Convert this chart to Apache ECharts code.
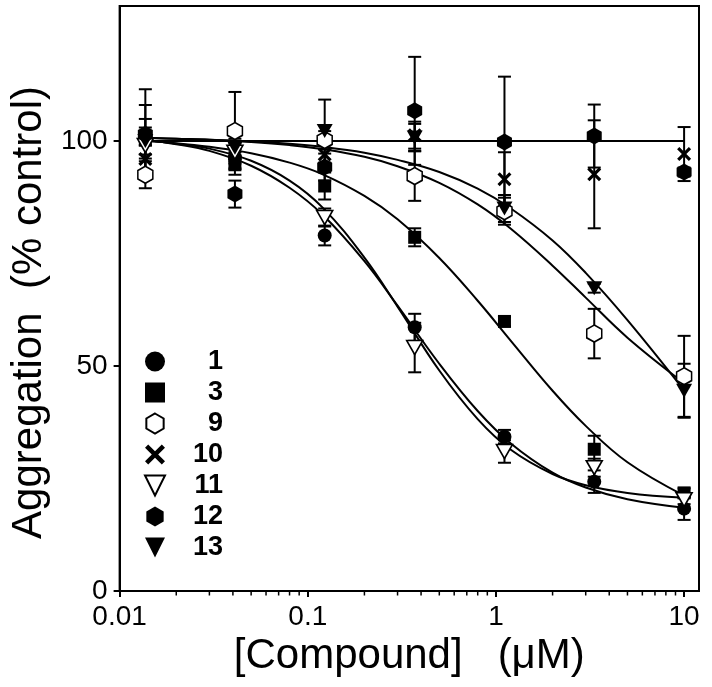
<!DOCTYPE html>
<html>
<head>
<meta charset="utf-8">
<script src="https://cdn.jsdelivr.net/npm/echarts@6/dist/echarts.min.js"></script>
<style>html,body{margin:0;padding:0;background:#fff}#c{width:712px;height:687px}</style>
</head>
<body>
<div id="c"></div>
<script>
// ---- data ----
const conc = [0.0137, 0.041, 0.123, 0.37, 1.11, 3.33, 10];
const s1  = [101, 96.4, 79, 58.6, 34.3, 24.3, 18.3];
const e1  = [2, 2.5, 2.2, 3, 1.5, 2.5, 2.5];
const s3  = [100.5, 95, 90, 78.6, 59.9, 31.5, 21.8];
const e3  = [4.4, 2.5, 3, 2, 1, 3, 1];
const s9  = [92.5, 102.2, 100.2, 92.2, 84.4, 57.2, 47.7];
const e9  = [3, 8.7, 2, 5.5, 3, 5.5, 9];
const s10 = [96, 97, 97, 101.3, 91.5, 92.6, 97.1];
const e10 = [3, 2, 2, 3, 6, 12, 6];
const s11 = [99, 97.5, 83, 54.1, 31, 27.4, 20.3];
const e11 = [2, 2, 2, 5.5, 2.5, 2, 1];
const s12 = [101.5, 88.2, 94.2, 106.7, 99.8, 101.1, 93.1];
const e12 = [10, 3, 3, 12, 14.5, 7, 1];
const s13 = [100, 98.5, 102.2, 100.8, 85, 67.3, 44.5];
const e13 = [8, 2, 7, 3, 3, 1, 6];

// fitted curves
const fitX  = [0.0137, 0.02, 0.03, 0.05, 0.08, 0.12, 0.2, 0.3, 0.5, 0.8, 1.2, 2, 3, 5, 10];
const fit1  = [100.3, 99.3, 97.8, 94.5, 89.6, 83.6, 73.3, 63.4, 50.5, 40.0, 32.8, 26.3, 23.0, 20.4, 18.5];
const fit3  = [100.0, 99.5, 98.7, 97.3, 95.2, 92.6, 87.8, 82.6, 74.0, 64.5, 55.6, 44.5, 36.7, 28.6, 21.2];
const fit9  = [100.7, 100.5, 100.3, 99.8, 99.1, 98.2, 96.5, 94.4, 90.7, 85.9, 80.5, 72.3, 65.2, 56.3, 46.2];
const fit11 = [100.1, 99.4, 98.3, 95.6, 91.2, 85.2, 74.1, 63.2, 49.0, 38.2, 31.4, 26.0, 23.5, 21.8, 20.7];
const fit13 = [100.7, 100.5, 100.3, 99.9, 99.4, 98.7, 97.4, 95.8, 93.1, 89.4, 85.0, 77.9, 70.7, 60.2, 44.6];
const flatX = [0.0137, 10];
const flatY = [100, 100];

const xMajor = [0.01, 0.1, 1, 10];
const xMinor = [0.02,0.03,0.04,0.05,0.06,0.07,0.08,0.09,0.2,0.3,0.4,0.5,0.6,0.7,0.8,0.9,2,3,4,5,6,7,8,9];
const yTicks = [0, 50, 100];
const names = ['1', '3', '9', '10', '11', '12', '13'];

// ---- build ----
const FONT = 'Liberation Sans, Arial, Helvetica, sans-serif';
const HEX = 'path://M50,0 L93.3,25 L93.3,75 L50,100 L6.7,75 L6.7,25 Z';
const XSYM = 'path://M0,16 L16,0 L50,34 L84,0 L100,16 L66,50 L100,84 L84,100 L50,66 L16,100 L0,84 L34,50 Z';
const TRI = 'path://M0,0 L100,0 L50,100 Z';

const zip = (xs, ys) => xs.map((x, i) => [x, ys[i]]);
const zip3 = (xs, ys, es) => xs.map((x, i) => [x, ys[i], es[i]]);

const sets = [
  {name: '1',  y: s1,  e: e1,  symbol: 'circle', size: 14, fill: '#000'},
  {name: '3',  y: s3,  e: e3,  symbol: 'rect', size: 13, fill: '#000'},
  {name: '9',  y: s9,  e: e9,  symbol: HEX, size: [15, 17], fill: '#fff'},
  {name: '10', y: s10, e: e10, symbol: XSYM, size: 14, fill: '#000'},
  {name: '11', y: s11, e: e11, symbol: TRI, size: [16, 14], fill: '#fff'},
  {name: '12', y: s12, e: e12, symbol: HEX, size: [15, 17], fill: '#000'},
  {name: '13', y: s13, e: e13, symbol: TRI, size: [16, 14], fill: '#000'}
];

function errRender(params, api) {
  const x = api.value(0), y = api.value(1), e = api.value(2);
  const t = api.coord([x, y + e]);
  const b = api.coord([x, y - e]);
  const hw = 6.5;
  const st = {stroke: '#000', lineWidth: 2};
  return {type: 'group', children: [
    {type: 'line', shape: {x1: t[0], y1: t[1], x2: b[0], y2: b[1]}, style: st},
    {type: 'line', shape: {x1: t[0] - hw, y1: t[1], x2: t[0] + hw, y2: t[1]}, style: st},
    {type: 'line', shape: {x1: b[0] - hw, y1: b[1], x2: b[0] + hw, y2: b[1]}, style: st}
  ]};
}
function minorTickRender(params, api) {
  const p = api.coord([api.value(0), 0]);
  return {type: 'line', shape: {x1: p[0], y1: p[1] + 1, x2: p[0], y2: p[1] + 4.5},
    style: {stroke: '#000', lineWidth: 1.5}};
}

const series = [];
series.push({
  name: 'minorTicks', type: 'custom', renderItem: minorTickRender, clip: false,
  data: xMinor.map(v => [v, 0]), encode: {x: 0, y: 1}, z: 0, silent: true
});
sets.forEach(s => {
  series.push({
    name: 'err' + s.name, type: 'custom', renderItem: errRender,
    data: zip3(conc, s.y, s.e), encode: {x: 0, y: 1}, z: 1, silent: true
  });
});
const fits = [[fitX, fit1], [fitX, fit3], [fitX, fit9], [fitX, fit11], [fitX, fit13], [flatX, flatY]];
fits.forEach((f, i) => {
  series.push({
    name: 'fit' + i, type: 'line', data: zip(f[0], f[1]), showSymbol: false,
    smooth: 0.4, lineStyle: {color: '#000', width: 2}, z: 2, silent: true
  });
});
sets.forEach(s => {
  series.push({
    name: s.name, type: 'scatter', data: zip(conc, s.y), symbol: s.symbol, symbolSize: s.size,
    itemStyle: {color: s.fill, borderColor: '#000', borderWidth: s.fill === '#fff' ? 1.6 : 0, opacity: 1},
    z: 3
  });
});

const chart = echarts.init(document.getElementById('c'), null, {renderer: 'canvas'});
chart.setOption({
  animation: false,
  backgroundColor: '#fff',
  grid: {left: 115, right: 13, top: 6, bottom: 96, show: true, borderColor: '#000', borderWidth: 2, backgroundColor: 'transparent'},
  legend: {
    data: names, orient: 'vertical', left: 144, top: 348, padding: 0,
    itemWidth: 20, itemHeight: 20, itemGap: 4, selectedMode: false,
    formatter: n => '{a|' + n + '}',
    textStyle: {rich: {a: {width: 53, align: 'right', fontSize: 27, fontWeight: 'bold', fontFamily: FONT, color: '#000', lineHeight: 20}}}
  },
  xAxis: {
    type: 'log', logBase: 10, min: 0.01, max: 12, position: 'bottom',
    name: '[Compound]   (\u03bcM)', nameLocation: 'middle', nameGap: 44,
    nameTextStyle: {fontSize: 42, fontFamily: FONT, color: '#000'},
    axisLine: {lineStyle: {color: '#000', width: 2}},
    axisTick: {customValues: xMajor, length: 6, lineStyle: {color: '#000', width: 2}},
    axisLabel: {customValues: xMajor, fontSize: 28, fontFamily: FONT, color: '#000', margin: 12,
      formatter: v => String(v)},
    splitLine: {show: false}, minorTick: {show: false}
  },
  yAxis: {
    type: 'value', min: 0, max: 130,
    name: 'Aggregation  (% control)', nameLocation: 'middle', nameGap: 64,
    nameTextStyle: {fontSize: 42, fontFamily: FONT, color: '#000', padding: [0, 28, 0, 0]},
    axisLine: {lineStyle: {color: '#000', width: 2}},
    axisTick: {customValues: yTicks, length: 6, lineStyle: {color: '#000', width: 2}},
    axisLabel: {customValues: yTicks, fontSize: 28, fontFamily: FONT, color: '#000', margin: 12},
    splitLine: {show: false}
  },
  series: series
});
</script>
</body>
</html>
